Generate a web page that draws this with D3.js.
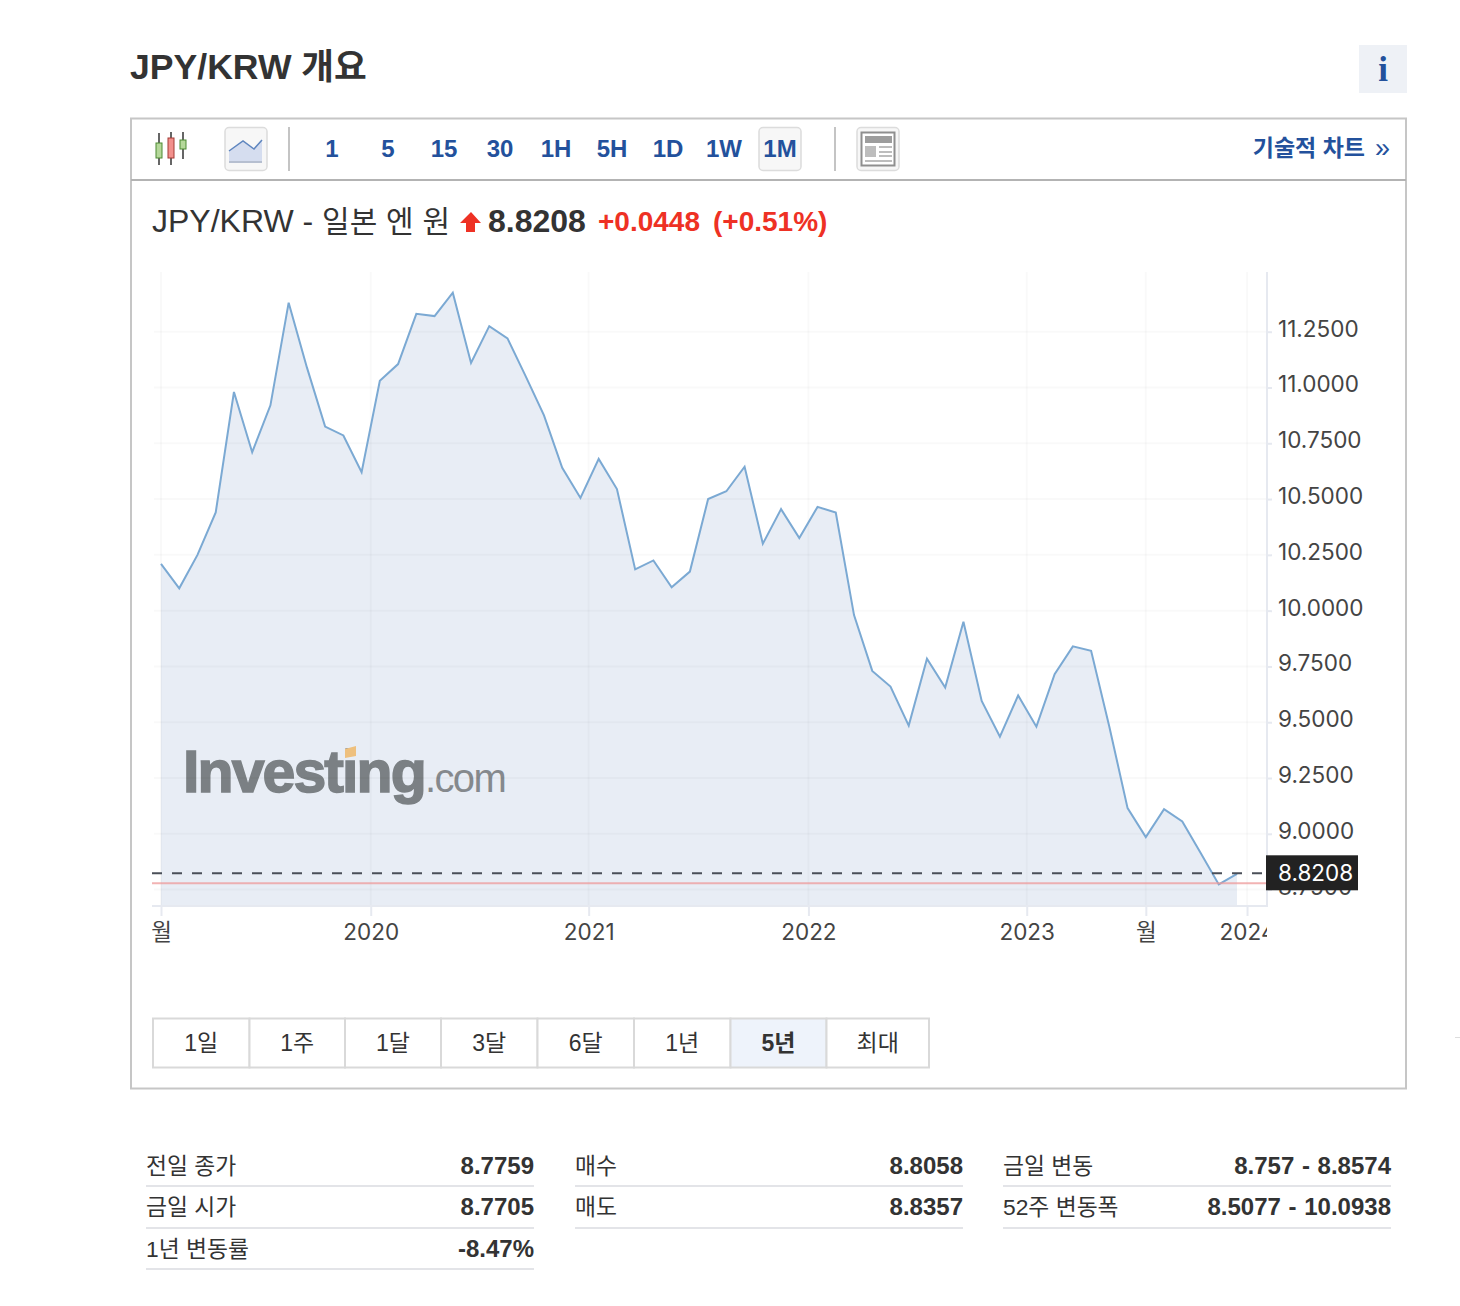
<!DOCTYPE html>
<html>
<head>
<meta charset="utf-8">
<script src="https://cdn.jsdelivr.net/npm/d3@7"></script>
<style>
body { margin: 0; background: #fff; }
text { font-family: "Liberation Sans", "Noto Sans CJK KR", sans-serif; fill: #333; }
.axis text { font-family: Inter, "Noto Sans CJK KR", sans-serif; font-size: 22.5px; fill: #444; }
.axis .domain { display: none; }
</style>
</head>
<body>
<svg width="1460" height="1306"></svg>
<script>
// monthly closes, Jan 2019 to Dec 2023
var closes = [
  10.21, 10.10, 10.25, 10.44, 10.98, 10.71, 10.92, 11.38, 11.09, 10.825, 10.785, 10.62,
  11.03, 11.105, 11.33, 11.32, 11.425, 11.11, 11.275, 11.22, 11.05, 10.875, 10.64, 10.505,
  10.68, 10.545, 10.185, 10.225, 10.105, 10.175, 10.50, 10.535, 10.645, 10.30, 10.455, 10.325,
  10.465, 10.44, 9.98, 9.73, 9.66, 9.485, 9.785, 9.655, 9.95, 9.595, 9.435, 9.62,
  9.48, 9.715, 9.84, 9.82, 9.48, 9.115, 8.985, 9.11, 9.055, 8.915, 8.773, 8.8208
];
var lastPrice = 8.8208;
var prevClose = 8.7759;

var yTicks = [8.75, 9, 9.25, 9.5, 9.75, 10, 10.25, 10.5, 10.75, 11, 11.25];
var xTickIndex = [0, 11.5, 23.45, 35.5, 47.47, 54, 59.55];
var xTickLabels = ["월", "2020", "2021", "2022", "2023", "월", "2024"];

var intervals = ["1", "5", "15", "30", "1H", "5H", "1D", "1W", "1M"];
var ranges = ["1일", "1주", "1달", "3달", "6달", "1년", "5년", "최대"];

var tableLabels = [["전일 종가", "금일 시가", "1년 변동률"], ["매수", "매도"], ["금일 변동", "52주 변동폭"]];
var tableValues = [["8.7759", "8.7705", "-8.47%"], ["8.8058", "8.8357"], ["8.757 - 8.8574", "8.5077 - 10.0938"]];

var svg = d3.select("svg");
var blue = "#23519c", red = "#ee3124";

var x = d3.scaleLinear().domain([0, closes.length - 1]).range([161, 1237]);
var y = d3.scaleLinear().domain([8.75, 11.25]).range([889.6, 331.7]);
var plotRight = 1267, plotTop = 272, plotBottom = 906;

// page header
svg.append("text").attr("x", 130).attr("y", 79).attr("font-size", 35.6).attr("font-weight", "bold").text("JPY/KRW 개요");
svg.append("rect").attr("x", 1359).attr("y", 45).attr("width", 48).attr("height", 48).attr("fill", "#eef1f6");
svg.append("text").attr("x", 1383).attr("y", 81).attr("text-anchor", "middle").attr("font-size", 35)
  .attr("font-weight", "bold").style("font-family", "Liberation Serif").style("fill", blue).text("i");

// chart box
svg.append("rect").attr("x", 131).attr("y", 118.5).attr("width", 1275).attr("height", 970)
  .attr("fill", "#fff").attr("stroke", "#c6c6c6").attr("stroke-width", 2);
svg.append("rect").attr("x", 131).attr("y", 179).attr("width", 1275).attr("height", 2).attr("fill", "#b3b3b3");

// toolbar
var toolbar = svg.append("g");
function iconBox(bx, w) {
  toolbar.append("rect").attr("x", bx).attr("y", 127.5).attr("width", w).attr("height", 43).attr("rx", 4)
    .attr("fill", "#f7f7f7").attr("stroke", "#dcdcdc").attr("stroke-width", 1.5);
}
function sep(sx) {
  toolbar.append("rect").attr("x", sx).attr("y", 127).attr("width", 2).attr("height", 44).attr("fill", "#c4c4c4");
}

// candle icon
[[159, 133, 165, 143, 158, "#b5d89a", "#4c8a32"], [171, 132, 165, 138, 158, "#f2908c", "#a33a34"], [183, 132, 159, 140, 149, "#b5d89a", "#4c8a32"]].forEach(function(c) {
  toolbar.append("line").attr("x1", c[0]).attr("x2", c[0]).attr("y1", c[1]).attr("y2", c[2]).attr("stroke", "#333").attr("stroke-width", 1.5);
  toolbar.append("rect").attr("x", c[0] - 3).attr("y", c[3]).attr("width", 6).attr("height", c[4] - c[3])
    .attr("fill", c[5]).attr("stroke", c[6]);
});

// line icon
iconBox(225, 42);
toolbar.append("path").attr("d", "M229,151L243,141L254,149L262,140V162H229Z").attr("fill", "#d5ddef");
toolbar.append("path").attr("d", "M229,151L243,141L254,149L262,140").attr("fill", "none").attr("stroke", "#5f86bf").attr("stroke-width", 1.5);
toolbar.append("rect").attr("x", 229).attr("y", 161).attr("width", 33).attr("height", 2).attr("fill", "#b6bfd0");
sep(288);
iconBox(759, 42);
sep(834);
iconBox(857, 42);

intervals.forEach(function(d, i) {
  toolbar.append("text").attr("x", 332 + i * 56).attr("y", 157).attr("text-anchor", "middle")
    .attr("font-size", 24).attr("font-weight", "bold").style("fill", blue).text(d);
});

// news icon
toolbar.append("rect").attr("x", 861.5).attr("y", 132.5).attr("width", 33).attr("height", 33).attr("fill", "#fff").attr("stroke", "#8f8f8f").attr("stroke-width", 2);
toolbar.append("rect").attr("x", 865).attr("y", 136).attr("width", 27).attr("height", 7).attr("fill", "#9d9d9d");
toolbar.append("rect").attr("x", 865).attr("y", 146).attr("width", 11).attr("height", 11).attr("fill", "#bdbdbd");
[146, 151, 155, 160].forEach(function(ly, i) {
  toolbar.append("rect").attr("x", i == 3 ? 865 : 879).attr("y", ly).attr("width", i == 3 ? 27 : 13).attr("height", 2).attr("fill", "#bdbdbd");
});

toolbar.append("text").attr("x", 1365).attr("y", 156).attr("text-anchor", "end").attr("font-size", 23)
  .attr("font-weight", "bold").style("fill", blue).text("기술적 차트");
toolbar.append("text").attr("x", 1390).attr("y", 157).attr("text-anchor", "end").attr("font-size", 27)
  .style("fill", blue).text("»");

// quote line
var quote = svg.append("g");
quote.append("text").attr("x", 152).attr("y", 232).attr("font-size", 32).text("JPY/KRW -");
quote.append("text").attr("x", 322).attr("y", 232).attr("font-size", 30)
  .attr("textLength", 128).attr("lengthAdjust", "spacing").text("일본 엔 원");
quote.append("path").attr("d", "M471,212L481,223H475V232H466V223H460Z").attr("fill", red);
quote.append("text").attr("x", 488).attr("y", 232).attr("font-size", 32).attr("font-weight", "bold").text("8.8208");
quote.append("text").attr("x", 598).attr("y", 231).attr("font-size", 28).attr("font-weight", "bold").style("fill", red).text("+0.0448");
quote.append("text").attr("x", 713).attr("y", 231).attr("font-size", 28).attr("font-weight", "bold").style("fill", red).text("(+0.51%)");

// chart
var area = d3.area().x(function(d, i) { return x(i); }).y0(plotBottom).y1(function(d) { return y(d); });
var line = d3.line().x(function(d, i) { return x(i); }).y(function(d) { return y(d); });

svg.append("path").datum(closes).attr("d", area).attr("fill", "#e8edf5");

// watermark
var mark = svg.append("text").attr("x", 183).attr("y", 792);
mark.append("tspan").attr("font-size", 59).attr("font-weight", "bold").attr("letter-spacing", -1.9)
  .attr("stroke", "#7b8084").attr("stroke-width", 1.5).style("fill", "#7b8084").text("Investing");
mark.append("tspan").attr("font-size", 40).attr("letter-spacing", -1.6).style("fill", "#85898d").text(".com");
svg.append("path").attr("d", "M345,749L356,746V756L345,758Z").attr("fill", "#eec07e");

// y axis, the labels sit a bit above their grid line
var yAxis = d3.axisRight(y).tickValues(yTicks).tickFormat(d3.format(".4f")).tickSize(5).tickPadding(6);
var yG = svg.append("g").attr("class", "axis").attr("transform", "translate(" + plotRight + ",0)").call(yAxis);
yG.selectAll("text").attr("dy", "0.2em");
yG.selectAll("line").attr("stroke", "#e6e9f0").attr("stroke-width", 2);

var xAxis = d3.axisBottom(x).tickValues(xTickIndex)
  .tickFormat(function(d, i) { return xTickLabels[i]; }).tickSize(10).tickPadding(8);
var xG = svg.append("g").attr("class", "axis").attr("transform", "translate(0," + plotBottom + ")")
  .attr("clip-path", "url(#xClip)").call(xAxis);
svg.append("clipPath").attr("id", "xClip").append("rect")
  .attr("x", 140).attr("y", -5).attr("width", plotRight - 140).attr("height", 60);
xG.selectAll("line").attr("stroke", "#e6e9f0").attr("stroke-width", 2);

// grid
svg.append("g").selectAll("line").data(yTicks).enter().append("line")
  .attr("x1", 154).attr("x2", plotRight).attr("y1", function(d) { return y(d); }).attr("y2", function(d) { return y(d); })
  .attr("stroke", "#000").attr("stroke-opacity", 0.025).attr("stroke-width", 2);
svg.append("g").selectAll("line").data(xTickIndex).enter().append("line")
  .attr("x1", function(d) { return x(d); }).attr("x2", function(d) { return x(d); }).attr("y1", plotTop).attr("y2", plotBottom)
  .attr("stroke", "#000").attr("stroke-opacity", 0.025).attr("stroke-width", 2);

// axis border lines
svg.append("rect").attr("x", plotRight - 1).attr("y", plotTop).attr("width", 2).attr("height", plotBottom - plotTop + 1).attr("fill", "#e6e9f0");
svg.append("rect").attr("x", 152).attr("y", plotBottom - 1).attr("width", plotRight - 152).attr("height", 2).attr("fill", "#e6e9f0");

svg.append("path").datum(closes).attr("d", line).attr("fill", "none").attr("stroke", "#7ba9d3").attr("stroke-width", 2);

svg.append("line").attr("x1", 152).attr("x2", plotRight).attr("y1", y(prevClose) - 0.5).attr("y2", y(prevClose) - 0.5)
  .attr("stroke", "#ee9a9a").attr("stroke-opacity", 0.75).attr("stroke-width", 2);
svg.append("line").attr("x1", 152).attr("x2", plotRight).attr("y1", y(lastPrice) - 0.5).attr("y2", y(lastPrice) - 0.5)
  .attr("stroke", "#4a4f58").attr("stroke-width", 2).attr("stroke-dasharray", "10 10");

// price flag on top of the 8.75 tick label
svg.append("rect").attr("x", 1266).attr("y", y(lastPrice) - 18.5).attr("width", 92).attr("height", 35).attr("fill", "#222");
svg.append("text").attr("x", 1278).attr("y", y(lastPrice) + 7).attr("font-size", 22.5)
  .style("font-family", "Inter").style("fill", "#fff").text(d3.format(".4f")(lastPrice));

// range buttons
var rangeW = [96.5, 95.5, 96, 96.5, 96.5, 96.5, 96, 102.5], rx = 153;
ranges.forEach(function(d, i) {
  svg.append("rect").attr("x", rx).attr("y", 1018.5).attr("width", rangeW[i]).attr("height", 49)
    .attr("fill", d == "5년" ? "#eef3fb" : "#fff").attr("stroke", "#d9d9d9").attr("stroke-width", 2);
  svg.append("text").attr("x", rx + rangeW[i] / 2).attr("y", 1051).attr("text-anchor", "middle").attr("font-size", 23)
    .attr("font-weight", d == "5년" ? "bold" : "normal").text(d);
  rx += rangeW[i];
});

// stats table
var colX = [146, 575, 1003], colW = 388, rowBase = [1174, 1215, 1257], rowLine = [1186, 1228, 1269];
tableLabels.forEach(function(col, c) {
  col.forEach(function(label, r) {
    svg.append("text").attr("x", colX[c]).attr("y", rowBase[r]).attr("font-size", 22.8).text(label);
    svg.append("text").attr("x", colX[c] + colW).attr("y", rowBase[r]).attr("text-anchor", "end").attr("font-size", 24)
      .attr("font-weight", "bold").attr("word-spacing", 1).text(tableValues[c][r]);
    svg.append("rect").attr("x", colX[c]).attr("y", rowLine[r] - 1).attr("width", colW).attr("height", 2).attr("fill", "#e3e4e8");
  });
});

svg.append("rect").attr("x", 1455).attr("y", 1037).attr("width", 5).attr("height", 1).attr("fill", "#ddd");
</script>
</body>
</html>
